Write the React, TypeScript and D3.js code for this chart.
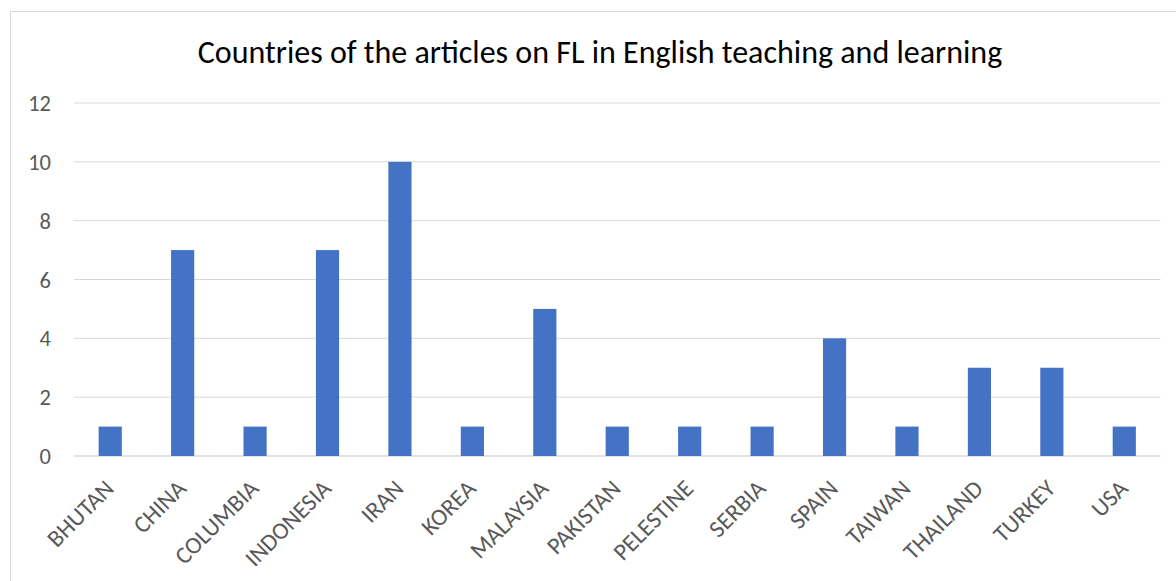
import React from 'react'
import * as d3 from 'd3'

const countries = [
  'BHUTAN', 'CHINA', 'COLUMBIA', 'INDONESIA', 'IRAN', 'KOREA', 'MALAYSIA', 'PAKISTAN',
  'PELESTINE', 'SERBIA', 'SPAIN', 'TAIWAN', 'THAILAND', 'TURKEY', 'USA',
]
const articles = [1, 7, 1, 7, 10, 1, 5, 1, 1, 1, 4, 1, 3, 3, 1]
const yTicks = [0, 2, 4, 6, 8, 10, 12]
const title = 'Countries of the articles on FL in English teaching and learning'

const width = 1176
const height = 581
const font = "Calibri, Carlito, 'Open Sans', sans-serif"

const App = () => {
  const x = d3.scaleBand().domain(countries).range([74, 1160.5]).paddingInner(0.68).paddingOuter(0.34)
  const y = d3.scaleLinear().domain([0, 12]).range([456, 103])

  return (
    <svg width={width} height={height} style={{ position: 'absolute', left: 0, top: 0 }}>
      <rect x={0} y={0} width={width} height={height} fill="#fff" />
      <rect x={10.5} y={11.5} width={width + 20} height={height + 20} fill="none" stroke="#d9d9d9" />
      <text x={600} y={63} textAnchor="middle" fontFamily={font} fontSize={32} fill="#000">
        {title}
      </text>
      {yTicks.map((t) => (
        <g key={t}>
          <line x1={74} x2={1160.5} y1={y(t)} y2={y(t)} stroke="#d9d9d9" strokeWidth={t === 0 ? 1.5 : 1} />
          <text x={51} y={y(t)} dy="0.36em" textAnchor="end" fontFamily={font} fontSize={22.5} fill="#595959">
            {t}
          </text>
        </g>
      ))}
      {countries.map((c, i) => (
        <rect
          key={c}
          x={x(c)}
          y={y(articles[i])}
          width={x.bandwidth()}
          height={y(0) - y(articles[i])}
          fill="#4472c4"
        />
      ))}
      {countries.map((c) => {
        const cx = (x(c) ?? 0) + x.bandwidth() / 2 + 5
        const cy = 490
        return (
          <text
            key={c}
            x={cx}
            y={cy}
            transform={`rotate(-45, ${cx}, ${cy})`}
            textAnchor="end"
            fontFamily={font}
            fontSize={24}
            fill="#595959"
          >
            {c}
          </text>
        )
      })}
    </svg>
  )
}

export default App
